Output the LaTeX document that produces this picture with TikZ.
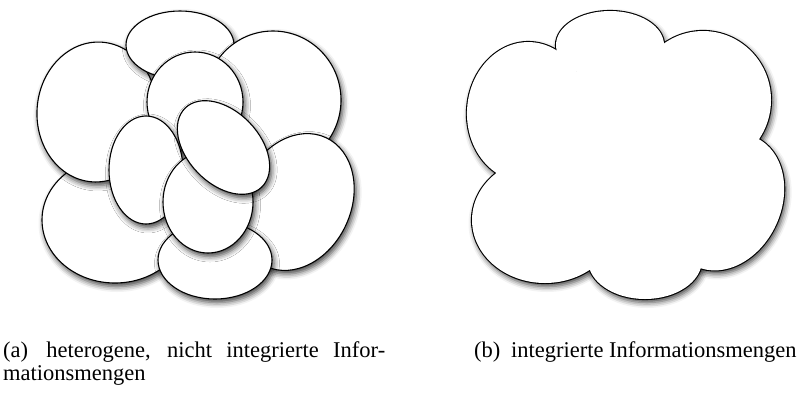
\documentclass[tikz,border=0pt]{standalone}
\usepackage{fontspec}
\setmainfont{Liberation Serif}
\usetikzlibrary{shadows.blur}

% Ellipses of the information sets: cx/cy/rx/ry/rotation, listed back to front
\newcommand\infosets{%
  115/220/73/63/0,
  97/112/60/70/-4,
  180/45/54/34/0,
  273/100/68/69/0,
  195/102/48/50/0,
  146/170/37/54/0,
  296/202/55/71/-25,
  215/260/57/39/0,
  208/202/45/51/0,
  223.5/147.5/55/36/-46}

\tikzset{
  shadowed/.style={blur shadow={shadow xshift=2pt, shadow yshift=-3.5pt,
      shadow blur radius=5.5pt, shadow opacity=75}},
  setshape/.style={draw=black, line width=1.1pt, fill=white, shadowed},
  caption/.style={inner sep=0pt, font=\fontsize{22.5}{23}\selectfont},
}

\begin{document}
\begin{tikzpicture}[x=1pt, y=-1pt]
  \useasboundingbox (0,0) rectangle (802,392);

  % (a) separate, overlapping sets
  \foreach \cx/\cy/\rx/\ry/\rot in \infosets {
    \path[setshape, rotate around={\rot:(\cx,\cy)}]
      (\cx,\cy) ellipse [x radius=\rx pt, y radius=\ry pt];
  }

  % (b) the same sets merged into one outline
  \begin{scope}[xshift=430pt]
    \foreach \cx/\cy/\rx/\ry/\rot in \infosets {
      \path[shadowed, rotate around={\rot:(\cx,\cy)}]
        (\cx,\cy) ellipse [x radius=\rx pt, y radius=\ry pt];
    }
    \foreach \cx/\cy/\rx/\ry/\rot in \infosets {
      \draw[line width=2.2pt, rotate around={\rot:(\cx,\cy)}]
        (\cx,\cy) ellipse [x radius=\rx pt, y radius=\ry pt];
    }
    \foreach \cx/\cy/\rx/\ry/\rot in \infosets {
      \fill[white, rotate around={\rot:(\cx,\cy)}]
        (\cx,\cy) ellipse [x radius=\rx pt, y radius=\ry pt];
    }
    % close the small gaps inside the merged area
    \fill[white] (97,112) -- (180,45) -- (273,100) -- (296,202)
      -- (215,260) -- (115,220) -- cycle;
  \end{scope}

  % captions
  \node[caption, anchor=base west, align=left] (capa) at (3,380)
    {\makebox[382pt][s]{(a)\hspace{4pt} heterogene, nicht integrierte Infor-}\\mationsmengen};
  \node[caption, anchor=base west] (capb) at (474,357)
    {(b)\hspace{5pt} integrierte Informationsmengen};
\end{tikzpicture}
\end{document}
